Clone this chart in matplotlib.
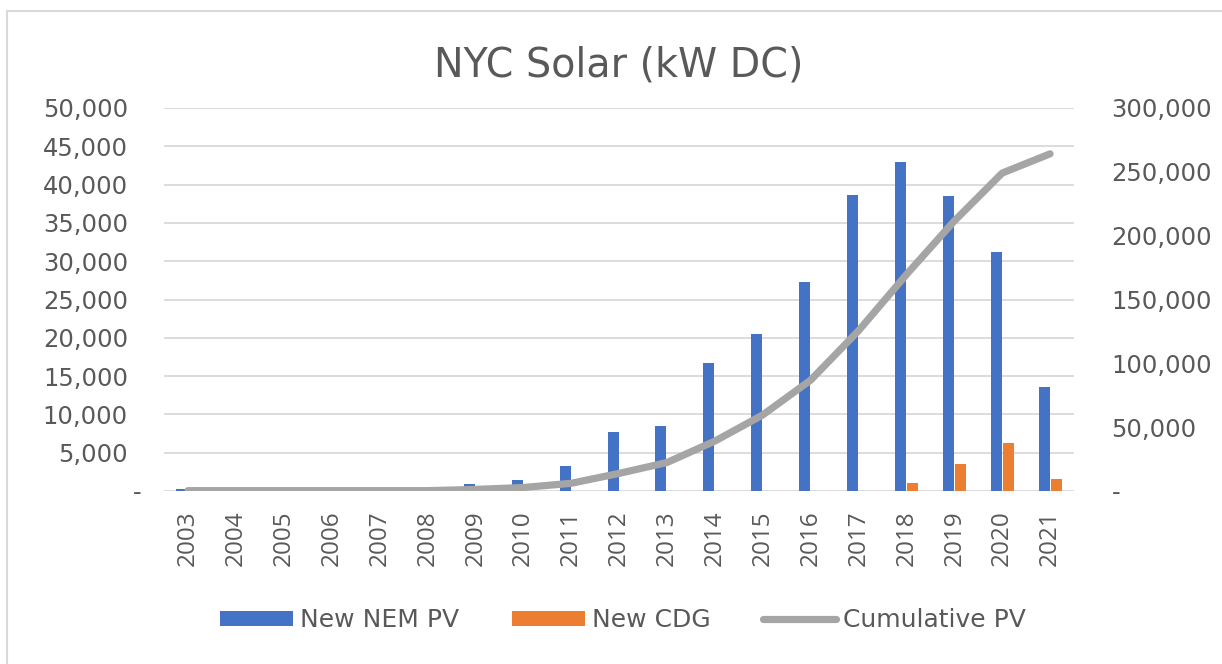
import matplotlib
matplotlib.use("Agg")
import matplotlib.pyplot as plt
import matplotlib.ticker as mticker
from matplotlib.patches import Rectangle
from matplotlib.transforms import ScaledTranslation
import numpy as np

plt.rcParams["font.family"] = ["DejaVu Sans"]

years = [str(y) for y in range(2003, 2022)]
new_nem_pv = [260, 0, 0, 0, 0, 0, 970, 1490, 3300, 7750, 8530, 16750, 20500,
              27250, 38700, 43000, 38450, 31250, 13550]
new_cdg = [0, 0, 0, 0, 0, 0, 0, 0, 0, 0, 0, 0, 0, 0, 0, 1000, 3520, 6300, 1530]
cumulative_pv = [260, 260, 260, 260, 260, 260, 1230, 2720, 6020, 13770, 22300,
                 39050, 59550, 86800, 125500, 169500, 211470, 249020, 264100]

BLUE = "#4472C4"
ORANGE = "#ED7D31"
GRAY = "#A5A5A5"
TXT = "#595959"
GRID = "#D9D9D9"

fig = plt.figure(figsize=(12.22, 6.64), dpi=100)
ax = fig.add_axes([164 / 1222, 1 - 491 / 664, 910 / 1222, 383 / 664])
ax2 = ax.twinx()

x = np.arange(len(years))
w = 0.23
ax.bar(x - 0.125, new_nem_pv, width=w, color=BLUE, label="New NEM PV", zorder=2)
ax.bar(x + 0.125, new_cdg, width=w, color=ORANGE, label="New CDG", zorder=2)
ax2.plot(x, cumulative_pv, color=GRAY, lw=5.2, solid_capstyle="round",
         solid_joinstyle="round", label="Cumulative PV")

ax.set_xlim(-0.5, len(years) - 0.5)
ax.set_ylim(0, 50000)
ax2.set_ylim(0, 300000)
ax.set_yticks(np.arange(0, 50001, 5000))
ax2.set_yticks(np.arange(0, 300001, 50000))

fmt = mticker.FuncFormatter(lambda v, p: "-" if v == 0 else f"{v:,.0f}")
ax.yaxis.set_major_formatter(fmt)
ax2.yaxis.set_major_formatter(fmt)

ax.set_xticks(x)
ax.set_xticklabels(years, rotation=90, family="Open Sans", fontsize=17.5)

ax.grid(axis="y", color=GRID, lw=1.3, zorder=0)
ax.set_axisbelow(True)
for a in (ax, ax2):
    for s in a.spines.values():
        s.set_visible(False)
    a.tick_params(length=0, colors=TXT, labelsize=17.5)
ax.tick_params(axis="y", pad=26)
ax.tick_params(axis="x", pad=14)
ax2.tick_params(axis="y", pad=27)

# Excel accounting format puts the zero dash a little to the right
fig.canvas.draw()
zero_lab = ax.get_yticklabels()[0]
zero_lab.set_transform(zero_lab.get_transform()
                       + ScaledTranslation(14 / 100, 0, fig.dpi_scale_trans))

fig.text(0.506, 1 - 77 / 664, "NYC Solar (kW DC)", ha="center", va="baseline",
         fontsize=28.5, color=TXT)

h1, l1 = ax.get_legend_handles_labels()
h2, l2 = ax2.get_legend_handles_labels()
fig.legend(h1 + h2, l1 + l2, loc="center", bbox_to_anchor=(0.51, 1 - 620 / 664),
           ncol=3, frameon=False, fontsize=18, labelcolor=TXT, handlelength=2.9,
           handleheight=0.55, handletextpad=0.3, columnspacing=2.1)

fig.patches.append(Rectangle((7 / 1222, -0.1), 1.2, 1 - 11 / 664 + 0.1,
                             transform=fig.transFigure, fill=False,
                             edgecolor="#D9D9D9", lw=1.5))

fig.savefig("out.png", dpi=100)
